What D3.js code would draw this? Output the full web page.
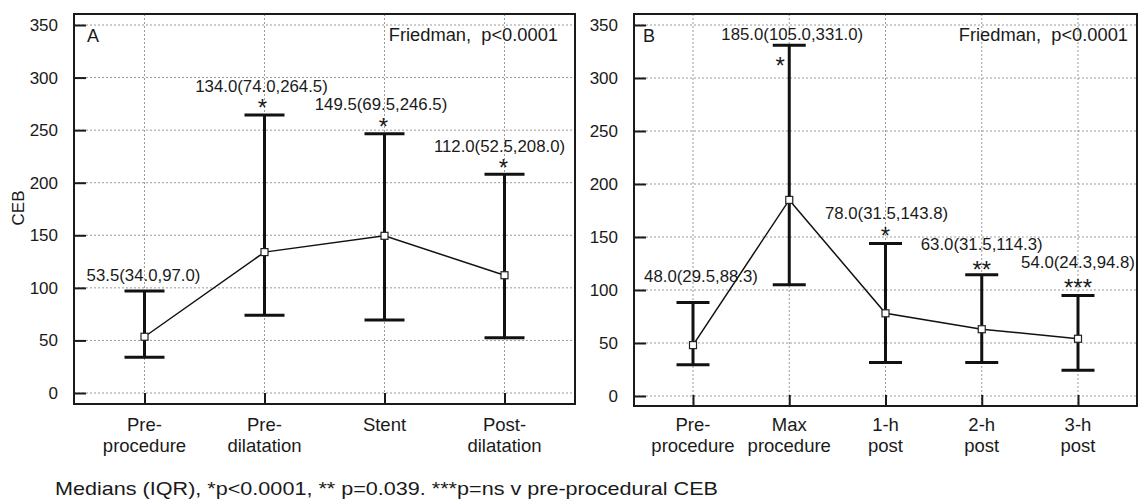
<!DOCTYPE html>
<html>
<head>
<meta charset="utf-8">
<script src="https://cdn.jsdelivr.net/npm/d3@7"></script>
<style>
  html, body { margin: 0; padding: 0; background: #fff; }
  svg { display: block; }
  text { font-family: "Liberation Sans", Arial, Helvetica, sans-serif; fill: #1a1a1a; }
</style>
</head>
<body>
<svg id="chart" width="1140" height="499"></svg>
<script>
// ---------------- DATA ----------------
const yTicks = [0, 50, 100, 150, 200, 250, 300, 350];

const categoriesA = [["Pre-", "procedure"], ["Pre-", "dilatation"], ["Stent"], ["Post-", "dilatation"]];
const medianA = [53.5, 134.0, 149.5, 112.0];
const q1A     = [34.0, 74.0, 69.5, 52.5];
const q3A     = [97.0, 264.5, 246.5, 208.0];
const sigA    = ["", "*", "*", "*"];

const categoriesB = [["Pre-", "procedure"], ["Max", "procedure"], ["1-h", "post"], ["2-h", "post"], ["3-h", "post"]];
const medianB = [48.0, 185.0, 78.0, 63.0, 54.0];
const q1B     = [29.5, 105.0, 31.5, 31.5, 24.3];
const q3B     = [88.3, 331.0, 143.8, 114.3, 94.8];
const sigB    = ["", "*", "*", "**", "***"];

const panelLetters = ["A", "B"];
const testText = "Friedman,  p<0.0001";
const yTitle = "CEB";
const footnote = "Medians (IQR), *p<0.0001, ** p=0.039. ***p=ns v pre-procedural CEB";

// ---------------- LAYOUT ----------------
const layoutA = {
  left: 74, right: 575, top: 14, bottom: 404, y0: 393, y350: 25, pad: 0.5875, cap: 40,
  labDx: [-1, -3, -3.5, -5], labDy: [-10, -23, -24, -22],
  starDx: [0, -2, -1, -1], starCy: [0, -13, -13, -12],
  testEnd: 558, letterX: 87
};
const layoutB = {
  left: 634, right: 1137, top: 14, bottom: 406, y0: 396, y350: 25, pad: 0.613, cap: 33,
  labDx: [8, 3, 1, 0, 0], labDy: [-20, -5, -25, -25, -28],
  starDx: [0, -9, 0, 0, 0], starCy: [0, 15, -13, -11, -13],
  testEnd: 1128, letterX: 643
};

const svg = d3.select("#chart");
const fmt = d3.format(".1f");
const starSize = 24;

function drawPanel(cats, med, q1, q3, sig, L, letter) {
  const g = svg.append("g");
  const x = d3.scalePoint().domain(d3.range(cats.length)).range([L.left, L.right]).padding(L.pad);
  const y = d3.scaleLinear().domain([0, 350]).range([L.y0, L.y350]);

  // grid
  g.selectAll("line.hgrid").data(yTicks).join("line")
    .attr("x1", L.left).attr("x2", L.right)
    .attr("y1", d => y(d)).attr("y2", d => y(d))
    .attr("stroke", "#9a9a9a").attr("stroke-width", 1).attr("stroke-dasharray", "2,2");
  g.selectAll("line.vgrid").data(d3.range(cats.length)).join("line")
    .attr("x1", d => x(d)).attr("x2", d => x(d))
    .attr("y1", L.top).attr("y2", L.bottom)
    .attr("stroke", "#9a9a9a").attr("stroke-width", 1).attr("stroke-dasharray", "2,2");

  // y axis ticks (inward) and labels
  const yAxis = d3.axisLeft(y).tickValues(yTicks).tickSize(-12).tickPadding(16);
  const ya = g.append("g").attr("transform", `translate(${L.left},0)`).call(yAxis);
  ya.select(".domain").remove();
  ya.selectAll(".tick line").attr("stroke", "#1a1a1a").attr("stroke-width", 2);
  ya.selectAll(".tick text").attr("font-size", "17px").attr("fill", "#1a1a1a")
    .style("font-family", '"Liberation Sans", Arial, sans-serif');

  // x axis ticks (inward)
  const xAxis = d3.axisBottom(x).tickSize(-11).tickFormat("");
  const xa = g.append("g").attr("transform", `translate(0,${L.bottom})`).call(xAxis);
  xa.select(".domain").remove();
  xa.selectAll(".tick line").attr("stroke", "#1a1a1a").attr("stroke-width", 2);

  // x category labels
  cats.forEach((lines, i) => {
    const t = g.append("text").attr("x", x(i)).attr("y", 431)
      .attr("text-anchor", "middle").attr("font-size", "18.5px");
    lines.forEach((ln, k) => {
      t.append("tspan").attr("x", x(i)).attr("dy", k === 0 ? 0 : 21).text(ln);
    });
  });

  // frame
  g.append("rect").attr("x", L.left).attr("y", L.top)
    .attr("width", L.right - L.left).attr("height", L.bottom - L.top)
    .attr("fill", "none").attr("stroke", "#1a1a1a").attr("stroke-width", 2);

  // error bars
  const idx = d3.range(cats.length);
  g.selectAll("line.whisk").data(idx).join("line")
    .attr("x1", i => x(i)).attr("x2", i => x(i))
    .attr("y1", i => y(q1[i])).attr("y2", i => y(q3[i]))
    .attr("stroke", "#111").attr("stroke-width", 3);
  [q1, q3].forEach(arr => {
    g.selectAll(null).data(idx).join("line")
      .attr("x1", i => x(i) - L.cap / 2).attr("x2", i => x(i) + L.cap / 2)
      .attr("y1", i => y(arr[i])).attr("y2", i => y(arr[i]))
      .attr("stroke", "#111").attr("stroke-width", 3);
  });

  // median line
  const line = d3.line().x(i => x(i)).y(i => y(med[i]));
  g.append("path").datum(idx).attr("d", line)
    .attr("fill", "none").attr("stroke", "#111").attr("stroke-width", 1.5);

  // markers
  g.selectAll("rect.m").data(idx).join("rect")
    .attr("x", i => x(i) - 3.5).attr("y", i => y(med[i]) - 3.5)
    .attr("width", 7).attr("height", 7)
    .attr("fill", "#fff").attr("stroke", "#222").attr("stroke-width", 1.2);

  // annotations
  idx.forEach(i => {
    const capY = y(q3[i]);
    g.append("text")
      .attr("x", x(i) + L.labDx[i]).attr("y", capY + L.labDy[i])
      .attr("text-anchor", "middle").attr("font-size", "16.8px")
      .text(`${fmt(med[i])}(${fmt(q1[i])},${fmt(q3[i])})`);
    if (sig[i]) {
      g.append("text")
        .attr("x", x(i) + L.starDx[i]).attr("y", capY + L.starCy[i] + 0.57 * starSize)
        .attr("text-anchor", "middle").attr("font-size", starSize + "px")
        .text(sig[i]);
    }
  });

  // panel letter and test text
  g.append("text").attr("x", L.letterX).attr("y", 42).attr("font-size", "18px").text(letter);
  g.append("text").attr("x", L.testEnd).attr("y", 41).attr("text-anchor", "end")
    .attr("font-size", "18.3px").style("white-space", "pre").text(testText);
}

drawPanel(categoriesA, medianA, q1A, q3A, sigA, layoutA, panelLetters[0]);
drawPanel(categoriesB, medianB, q1B, q3B, sigB, layoutB, panelLetters[1]);

// y title
svg.append("text").attr("transform", "translate(24,208) rotate(-90)")
  .attr("text-anchor", "middle").attr("font-size", "17px").text(yTitle);

// footnote
svg.append("text").attr("x", 55).attr("y", 495).attr("font-size", "19px")
  .attr("textLength", 663).attr("lengthAdjust", "spacingAndGlyphs").text(footnote);
</script>
</body>
</html>
